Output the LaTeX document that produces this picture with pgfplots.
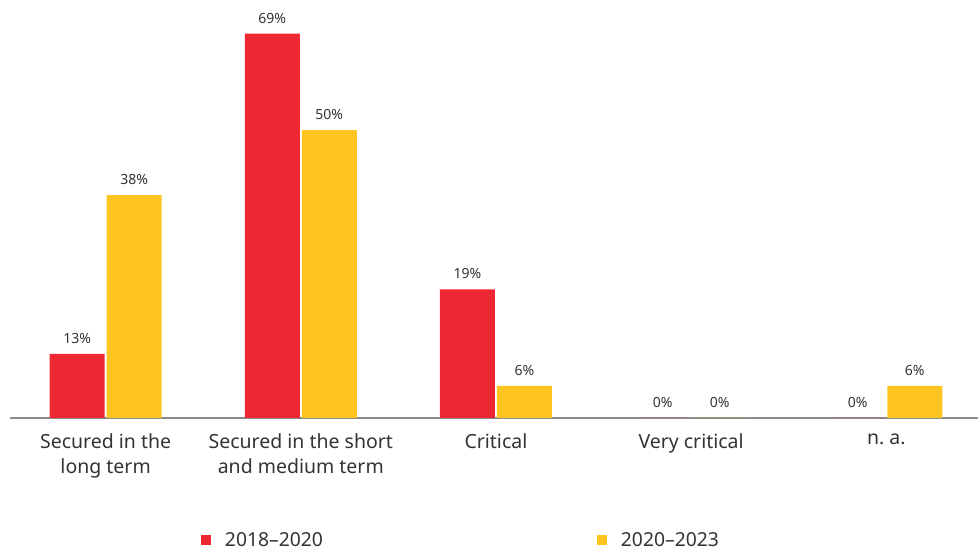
\documentclass[border=0pt]{standalone}
\usepackage{pgfplots}
\pgfplotsset{compat=1.18}
\usepackage{fontspec}
\setmainfont{Noto Sans}
\definecolor{barred}{HTML}{EE2832}
\definecolor{baryel}{HTML}{FEC41F}
\definecolor{txt}{HTML}{333333}
\definecolor{axgray}{HTML}{8C8C8C}
\begin{document}
\begin{tikzpicture}
\useasboundingbox (-10pt,-133pt) rectangle (968pt,418pt);
\begin{axis}[
	at={(0,0)}, anchor=south west,
	scale only axis,
	width=968pt, height=418pt,
	ybar, bar width=55pt, bar shift auto,
	ymin=0, ymax=75.05,
	xmin=-0.49, xmax=4.47,
	axis x line=bottom, axis y line=none,
	axis line style={axgray, line width=1.5pt, -},
	xtick=data,
	xticklabels={{Secured in the\\long term},{Secured in the short\\and medium term},Critical,Very critical,n.\ a.},
	xticklabel style={align=center, text=txt, font=\fontsize{19.5}{25}\selectfont, yshift=-12pt},
	major tick length=0pt,
	point meta=explicit symbolic,
	nodes near coords={\pgfplotspointmeta\%},
	nodes near coords style={text=txt, font=\fontsize{14}{16}\selectfont, yshift=7pt},
	legend style={at={(0.194,-0.292)}, anchor=west, draw=none, legend columns=2,
		font=\fontsize{19.3}{22}\selectfont, text=txt,
		/tikz/every even column/.append style={column sep=272pt}},
	legend image code/.code={\fill[#1] (0pt,-5pt) rectangle (10pt,5pt); \path[draw=none, fill=none] (0pt,0pt) -- (22pt,0pt);},
]
\addplot[fill=barred, draw=none] coordinates {(0,11.5)[13] (1,69)[69] (2,23.1)[19] (3,0)[0] (4,0)[0]};
\addplot[fill=baryel, draw=none] coordinates {(0,40.0)[38] (1,51.7)[50] (2,5.75)[6] (3,0)[0] (4,5.75)[6]};
\legend{2018–2020,2020–2023}
\end{axis}
\end{tikzpicture}
\end{document}
